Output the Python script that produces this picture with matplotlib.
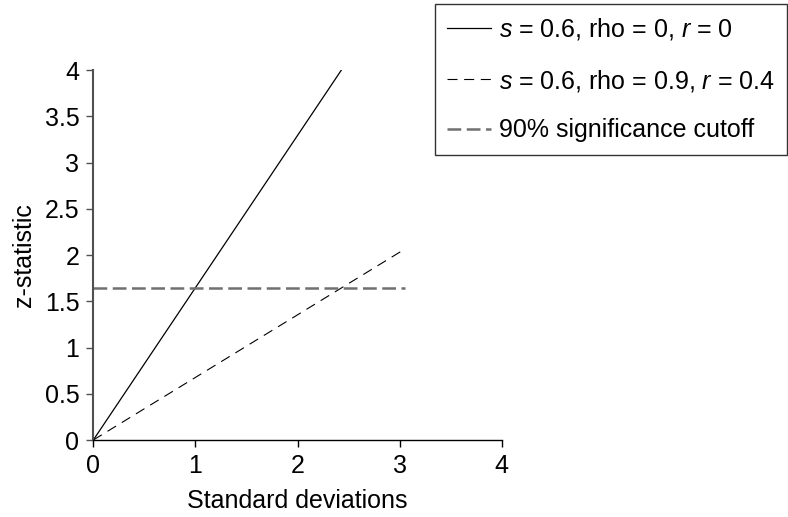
import matplotlib
matplotlib.use("Agg")
from matplotlib import pyplot as plt
from matplotlib.ticker import FormatStrFormatter

plt.rcParams["font.family"] = ["Liberation Sans", "DejaVu Sans"]
plt.rcParams["mathtext.fontset"] = "custom"
plt.rcParams["mathtext.it"] = "Liberation Sans:italic"
plt.rcParams["mathtext.rm"] = "Liberation Sans"

# lines
x_s0 = [0, 2.43]
z_s0 = [0, 4.0]
x_s09 = [0, 3.03]
z_s09 = [0, 2.05]
x_cut = [0, 3.05]
z_cut = [1.645, 1.645]

labels = [r"$s$ = 0.6, rho = 0, $r$ = 0",
          r"$s$ = 0.6, rho = 0.9, $r$ = 0.4",
          "90% significance cutoff"]
xticks = [0, 1, 2, 3, 4]
yticks = [0, 0.5, 1, 1.5, 2, 2.5, 3, 3.5, 4]

fs = 18

fig = plt.figure(figsize=(7.88, 5.17), dpi=100)
ax = fig.add_axes([0.1184, 0.1489, 0.5183, 0.7157])

ax.plot(x_s0, z_s0, color="black", lw=0.9, label=labels[0])
ax.plot(x_s09, z_s09, color="black", lw=0.8, dashes=(9, 6), label=labels[1])
ax.plot(x_cut, z_cut, color="#707070", lw=1.8, dashes=(5.5, 2.2), label=labels[2])

ax.set_xlim(0, 4)
ax.set_ylim(0, 4)
ax.set_xticks(xticks)
ax.set_yticks(yticks)
ax.yaxis.set_major_formatter(FormatStrFormatter("%g"))
ax.spines["top"].set_visible(False)
ax.spines["right"].set_visible(False)
ax.spines["left"].set_color("#505050")
ax.spines["left"].set_linewidth(1.5)
ax.spines["bottom"].set_color("black")
ax.spines["bottom"].set_linewidth(1.0)
ax.tick_params(direction="out", length=5, width=1, labelsize=fs, pad=5)
ax.tick_params(axis="y", colors="#505050", labelcolor="black")
ax.set_xlabel("Standard deviations", fontsize=fs, labelpad=8)
ax.set_ylabel("z-statistic", fontsize=fs, labelpad=6)

leg = fig.legend(loc="upper right", bbox_to_anchor=(787 / 788, 1 - 4 / 517),
                 borderaxespad=0, fontsize=fs, fancybox=False, frameon=True,
                 edgecolor="black", handlelength=1.75, handletextpad=0.3,
                 labelspacing=1.0, borderpad=0.5)
leg.get_frame().set_linewidth(1.0)

fig.savefig("out.png", dpi=100)
